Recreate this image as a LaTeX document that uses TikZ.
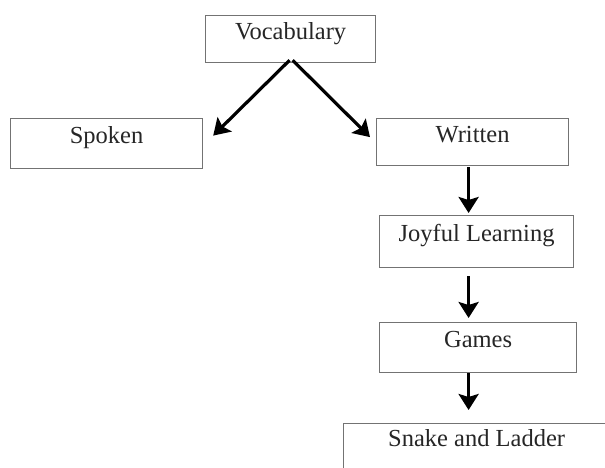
\documentclass[tikz,border=0pt]{standalone}
\usepackage{fontspec}
\setmainfont{Liberation Serif}
\usetikzlibrary{arrows.meta,calc}
\begin{document}
\begin{tikzpicture}[x=1pt,y=-1pt,
  box/.style={draw=black!55, line width=1.2pt, rectangle, anchor=north west, inner sep=0pt,
    font=\fontsize{24.5}{24.5}\selectfont, text=black!85, text height=12pt, text depth=12pt},
  arr/.style={line width=3.2pt, -{Stealth[length=16pt,width=20pt,inset=3pt]}}]
\useasboundingbox (0,0) rectangle (605,467);
\clip (0,0) rectangle (605,467);
\fill[white] (0,0) rectangle (605,467);
\node[box, minimum width=170pt, minimum height=47pt] (vocab) at (205,15) {Vocabulary};
\node[box, minimum width=192pt, minimum height=50pt] (spoken) at (10,118) {Spoken};
\node[box, minimum width=192pt, minimum height=47pt] (written) at (376,118) {Written};
\node[box, minimum width=194pt, minimum height=52pt] (joyful) at (379,215) {Joyful Learning};
\node[box, minimum width=197pt, minimum height=50pt] (games) at (379,322) {Games};
\node[box, minimum width=266pt, minimum height=46pt] (snake) at (343,423) {Snake and Ladder};
\draw[arr] ($(vocab.south)+(-1,-3)$) -- ($(spoken.east)+(10,-8)$);
\draw[arr] ($(vocab.south)+(2,-3)$) -- ($(written.west)+(-6,-5)$);
\draw[arr] ($(written.south)+(-4,1)$) -- ($(joyful.north)+(-8,-2)$);
\draw[arr] ($(joyful.south)+(-8,8)$) -- ($(games.north)+(-9.5,-4)$);
\draw[arr] ($(games.south)+(-9.5,0)$) -- ($(snake.north)+(-8,-13)$);
\end{tikzpicture}
\end{document}
